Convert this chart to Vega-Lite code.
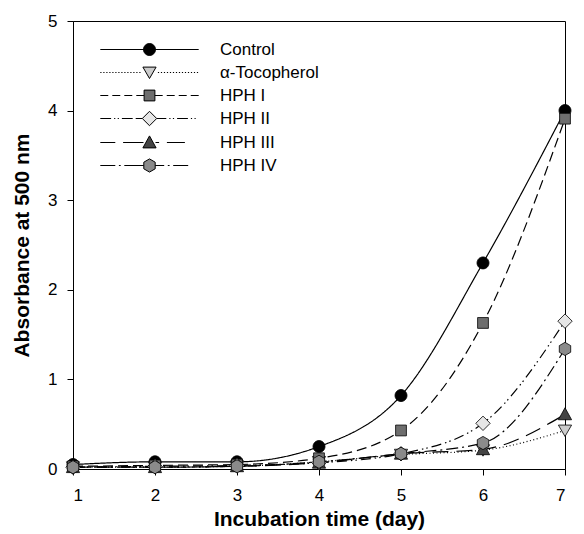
{
  "$schema": "https://vega.github.io/schema/vega-lite/v6.json",
  "width": 492,
  "height": 448,
  "autosize": "none",
  "padding": {"left": 73, "top": 21, "right": 19, "bottom": 65},
  "background": "white",
  "config": {
    "view": {"stroke": "black", "strokeWidth": 1},
    "font": "Liberation Sans",
    "axis": {"domainColor": "black", "tickColor": "black", "labelColor": "black", "titleColor": "black", "labelFont": "Liberation Sans", "titleFont": "Liberation Sans", "labelFontSize": 17, "titleFontSize": 21, "titleFontWeight": "bold", "grid": false, "tickSize": 6, "domainWidth": 1}
  },
  "data": {
    "values": [
      {"series": "Control", "day": 1, "value": 0.05},
      {"series": "Control", "day": 2, "value": 0.08},
      {"series": "Control", "day": 3, "value": 0.08},
      {"series": "Control", "day": 4, "value": 0.25},
      {"series": "Control", "day": 5, "value": 0.82},
      {"series": "Control", "day": 6, "value": 2.30},
      {"series": "Control", "day": 7, "value": 4.00},
      {"series": "α-Tocopherol", "day": 1, "value": 0.02},
      {"series": "α-Tocopherol", "day": 2, "value": 0.02},
      {"series": "α-Tocopherol", "day": 3, "value": 0.03},
      {"series": "α-Tocopherol", "day": 4, "value": 0.08},
      {"series": "α-Tocopherol", "day": 5, "value": 0.16},
      {"series": "α-Tocopherol", "day": 6, "value": 0.21},
      {"series": "α-Tocopherol", "day": 7, "value": 0.43},
      {"series": "HPH I", "day": 1, "value": 0.03},
      {"series": "HPH I", "day": 2, "value": 0.04},
      {"series": "HPH I", "day": 3, "value": 0.05},
      {"series": "HPH I", "day": 4, "value": 0.12},
      {"series": "HPH I", "day": 5, "value": 0.43},
      {"series": "HPH I", "day": 6, "value": 1.63},
      {"series": "HPH I", "day": 7, "value": 3.91},
      {"series": "HPH II", "day": 1, "value": 0.02},
      {"series": "HPH II", "day": 2, "value": 0.03},
      {"series": "HPH II", "day": 3, "value": 0.04},
      {"series": "HPH II", "day": 4, "value": 0.07},
      {"series": "HPH II", "day": 5, "value": 0.17},
      {"series": "HPH II", "day": 6, "value": 0.51},
      {"series": "HPH II", "day": 7, "value": 1.65},
      {"series": "HPH III", "day": 1, "value": 0.02},
      {"series": "HPH III", "day": 2, "value": 0.02},
      {"series": "HPH III", "day": 3, "value": 0.03},
      {"series": "HPH III", "day": 4, "value": 0.07},
      {"series": "HPH III", "day": 5, "value": 0.17},
      {"series": "HPH III", "day": 6, "value": 0.22},
      {"series": "HPH III", "day": 7, "value": 0.61},
      {"series": "HPH IV", "day": 1, "value": 0.02},
      {"series": "HPH IV", "day": 2, "value": 0.02},
      {"series": "HPH IV", "day": 3, "value": 0.03},
      {"series": "HPH IV", "day": 4, "value": 0.08},
      {"series": "HPH IV", "day": 5, "value": 0.17},
      {"series": "HPH IV", "day": 6, "value": 0.29},
      {"series": "HPH IV", "day": 7, "value": 1.34}
    ]
  },
  "encoding": {
    "x": {"field": "day", "type": "quantitative", "scale": {"domain": [1, 7], "nice": false}, "axis": {"values": [1, 2, 3, 4, 5, 6, 7], "title": "Incubation time (day)", "titlePadding": 5, "labelPadding": 12}},
    "y": {"field": "value", "type": "quantitative", "scale": {"domain": [0, 5], "nice": false}, "axis": {"values": [0, 1, 2, 3, 4, 5], "title": "Absorbance at 500 nm", "titlePadding": 15, "labelPadding": 10}}
  },
  "layer": [
    {
      "mark": {"type": "line", "interpolate": "monotone", "stroke": "black", "strokeWidth": 1.2},
      "encoding": {
        "detail": {"field": "series"},
        "strokeDash": {"field": "series", "type": "nominal", "legend": null,
          "scale": {"domain": ["Control", "α-Tocopherol", "HPH I", "HPH II", "HPH III", "HPH IV"],
            "range": [[1, 0], [1, 2.5], [10, 5], [10, 4, 1.5, 3, 1.5, 4], [16, 8], [12, 4, 2, 4]]}}
      }
    },
    {
      "mark": {"type": "point", "filled": true, "stroke": "black", "strokeWidth": 0.8, "size": 144, "opacity": 1},
      "encoding": {
        "shape": {"field": "series", "type": "nominal", "legend": null,
          "scale": {"domain": ["Control", "α-Tocopherol", "HPH I", "HPH II", "HPH III", "HPH IV"],
            "range": [
              "M-1,0A1,1,0,1,1,1,0A1,1,0,1,1,-1,0Z",
              "M-1.1,-0.9L1.1,-0.9L0,1.0Z",
              "M-0.9,-0.9L0.9,-0.9L0.9,0.9L-0.9,0.9Z",
              "M0,-1.2L1.2,0L0,1.2L-1.2,0Z",
              "M0,-1.1L1.1,0.9L-1.1,0.9Z",
              "M0,-1.1L0.95,-0.55L0.95,0.55L0,1.1L-0.95,0.55L-0.95,-0.55Z"
            ]}},
        "fill": {"field": "series", "type": "nominal", "legend": null,
          "scale": {"domain": ["Control", "α-Tocopherol", "HPH I", "HPH II", "HPH III", "HPH IV"],
            "range": ["#000000", "#cccccc", "#6e6e6e", "#e6e6e6", "#444444", "#8a8a8a"]}}
      }
    },
    {
      "mark": {"type": "point", "filled": true, "stroke": "black", "strokeWidth": 1, "opacity": 0},
      "encoding": {
        "shape": {"field": "series", "type": "nominal",
          "scale": {"domain": ["Control", "α-Tocopherol", "HPH I", "HPH II", "HPH III", "HPH IV"],
            "range": [
              "M-8.2,0L8.2,0M-1,0A1,1,0,1,1,1,0A1,1,0,1,1,-1,0Z",
              "M-8.2,0h0.2m0.3,0h0.2m0.3,0h0.2m0.3,0h0.2m0.3,0h0.2m0.3,0h0.2m0.3,0h0.2m0.3,0h0.2m0.3,0h0.2m0.3,0h0.2m0.3,0h0.2m0.3,0h0.2m0.3,0h0.2m0.3,0h0.2M1.4,0h0.2m0.3,0h0.2m0.3,0h0.2m0.3,0h0.2m0.3,0h0.2m0.3,0h0.2m0.3,0h0.2m0.3,0h0.2m0.3,0h0.2m0.3,0h0.2m0.3,0h0.2m0.3,0h0.2m0.3,0h0.2m0.3,0h0.2M-1.1,-0.9L1.1,-0.9L0,1.0Z",
              "M-8.2,0h1.33m0.67,0h1.33m0.67,0h1.33m0.67,0h1.3M0.9,0h1.3m0.67,0h1.33m0.67,0h1.33m0.67,0h1.33M-0.9,-0.9L0.9,-0.9L0.9,0.9L-0.9,0.9Z",
              "M-8.2,0h1.8m0.5,0h0.2m0.4,0h0.2m0.5,0h1.8m0.5,0h1.1M1.2,0h1.6m0.5,0h0.2m0.4,0h0.2m0.5,0h1.8m0.5,0h0.2m0.4,0h0.2M0,-1.2L1.2,0L0,1.2L-1.2,0Z",
              "M-8.2,0h2.5m1.3,0h3.4M1.0,0h0.6m1.3,0h3.0M0,-1.1L1.1,0.9L-1.1,0.9Z",
              "M-8.2,0h2.5m0.6,0h0.3m0.6,0h3.25M0.95,0h1.5m0.6,0h0.3m0.6,0h2.5M0,-1.1L0.95,-0.55L0.95,0.55L0,1.1L-0.95,0.55L-0.95,-0.55Z"
            ]},
          "legend": {"title": null, "orient": "none", "legendX": 25, "legendY": 20, "symbolSize": 144, "symbolOffset": 43, "labelOffset": 62, "labelFontSize": 17, "labelFont": "Liberation Sans", "labelColor": "black", "rowPadding": 5, "symbolOpacity": 1, "symbolStrokeColor": "black", "symbolStrokeWidth": 1, "padding": 0,
            "encode": {"symbols": {"update": {"stroke": {"value": "black"}, "strokeWidth": {"value": 1}, "opacity": {"value": 1}}}}}},
        "fill": {"field": "series", "type": "nominal",
          "scale": {"domain": ["Control", "α-Tocopherol", "HPH I", "HPH II", "HPH III", "HPH IV"],
            "range": ["#000000", "#cccccc", "#6e6e6e", "#e6e6e6", "#444444", "#8a8a8a"]},
          "legend": {"title": null, "orient": "none", "legendX": 25, "legendY": 20, "symbolSize": 144, "symbolOffset": 43, "labelOffset": 62, "labelFontSize": 17, "labelFont": "Liberation Sans", "labelColor": "black", "rowPadding": 5, "symbolOpacity": 1, "symbolStrokeColor": "black", "symbolStrokeWidth": 1, "padding": 0,
            "encode": {"symbols": {"update": {"stroke": {"value": "black"}, "strokeWidth": {"value": 1}, "opacity": {"value": 1}}}}}}
      }
    }
  ],
  "resolve": {"scale": {"shape": "independent", "fill": "independent", "strokeDash": "independent"}}
}
